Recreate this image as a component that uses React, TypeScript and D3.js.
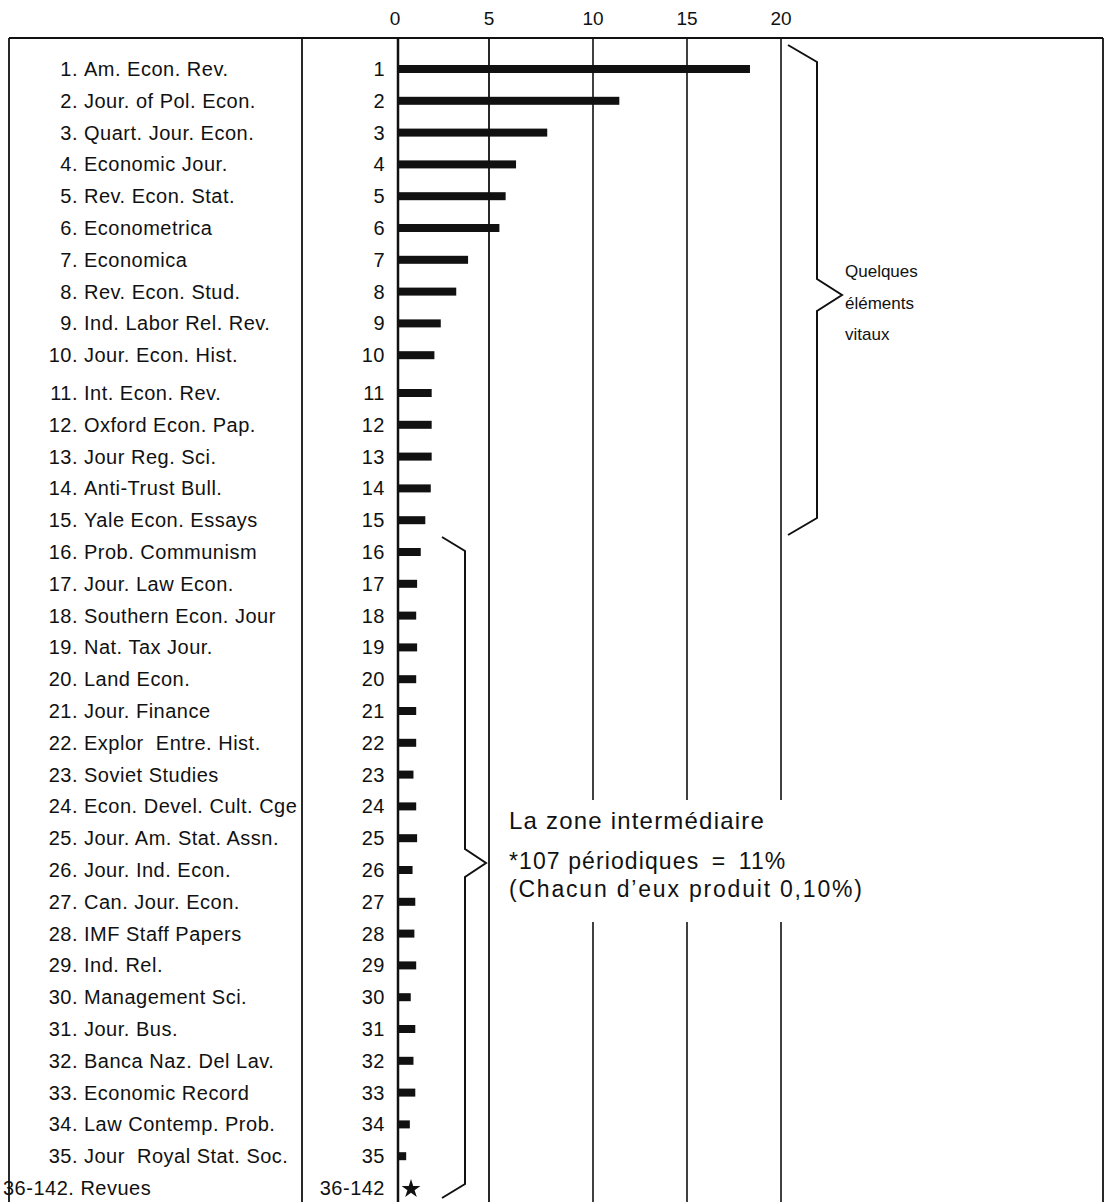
import React from "react";
import * as d3 from "d3";

const journals: string[] = [
  "Am. Econ. Rev.",
  "Jour. of Pol. Econ.",
  "Quart. Jour. Econ.",
  "Economic Jour.",
  "Rev. Econ. Stat.",
  "Econometrica",
  "Economica",
  "Rev. Econ. Stud.",
  "Ind. Labor Rel. Rev.",
  "Jour. Econ. Hist.",
  "Int. Econ. Rev.",
  "Oxford Econ. Pap.",
  "Jour Reg. Sci.",
  "Anti-Trust Bull.",
  "Yale Econ. Essays",
  "Prob. Communism",
  "Jour. Law Econ.",
  "Southern Econ. Jour",
  "Nat. Tax Jour.",
  "Land Econ.",
  "Jour. Finance",
  "Explor  Entre. Hist.",
  "Soviet Studies",
  "Econ. Devel. Cult. Cge",
  "Jour. Am. Stat. Assn.",
  "Jour. Ind. Econ.",
  "Can. Jour. Econ.",
  "IMF Staff Papers",
  "Ind. Rel.",
  "Management Sci.",
  "Jour. Bus.",
  "Banca Naz. Del Lav.",
  "Economic Record",
  "Law Contemp. Prob.",
  "Jour  Royal Stat. Soc.",
  "Revues",
];

const ranks: string[] = [
  "1", "2", "3", "4", "5", "6", "7", "8", "9", "10",
  "11", "12", "13", "14", "15", "16", "17", "18", "19", "20",
  "21", "22", "23", "24", "25", "26", "27", "28", "29", "30",
  "31", "32", "33", "34", "35", "36-142",
];

// percentage of citations (last group has no bar, marked with a star)
const values: (number | null)[] = [
  18.35, 11.4, 7.8, 6.3, 5.8, 5.5, 3.85, 3.2, 2.35, 2.0,
  1.85, 1.85, 1.85, 1.8, 1.5, 1.25, 1.05, 1.0, 1.05, 1.0,
  1.0, 1.0, 0.85, 1.0, 1.05, 0.8, 0.95, 0.9, 1.0, 0.7,
  0.95, 0.85, 0.95, 0.65, 0.45, null,
];

const xTicks: number[] = [0, 5, 10, 15, 20];

const vitalLabel: string[] = ["Quelques", "éléments", "vitaux"];
const zoneTitle = "La zone intermédiaire";
const zoneCount: string[] = ["*107 périodiques ", "=", " 11%"];
const zoneEach = "(Chacun d\u2019eux produit 0,10%)";

const FONT = "'Liberation Sans', Arial, Helvetica, sans-serif";

export default function App() {
  const W = 1107;
  const H = 1202;
  const x = d3.scaleLinear().domain(xTicks).range([398, 489, 593, 687, 781]);
  const rowY = d3.scaleLinear().domain([0, 1]).range([69, 100.8]);
  const y = (i: number) => rowY(i) + (i >= 10 ? 6 : 0);
  const barH = 8;

  const frameTop = 38;
  const gapTop = 800;
  const gapBottom = 922;
  const fs = 20;
  const ls = 0.5;

  const brace = (
    xe: number, xs: number, xt: number,
    yTop: number, yBot: number, yTip: number, dy: number, dTip: number
  ) => {
    const p = d3.path();
    p.moveTo(xe, yTop);
    p.lineTo(xs, yTop + dy);
    p.lineTo(xs, yTip - dTip);
    p.lineTo(xt, yTip);
    p.lineTo(xs, yTip + dTip);
    p.lineTo(xs, yBot - dy);
    p.lineTo(xe, yBot);
    return p.toString();
  };

  const star = d3.symbol(d3.symbolStar, 110)();

  return (
    <svg
      width={W}
      height={H}
      style={{ position: "absolute", left: 0, top: 0, background: "#fff" }}
      fontFamily={FONT}
    >
      <rect x={0} y={0} width={W} height={H} fill="#fff" />
      {/* tick labels */}
      {xTicks.map((t) => (
        <text key={"t" + t} x={x(t) - (t === 0 ? 3 : 0)} y={25} fontSize={19} textAnchor="middle" fill="#111">
          {t}
        </text>
      ))}
      {/* frame */}
      <line x1={9} x2={1103} y1={frameTop} y2={frameTop} stroke="#111" strokeWidth={2} />
      <line x1={9} x2={9} y1={frameTop} y2={H} stroke="#111" strokeWidth={1.8} />
      <line x1={1103} x2={1103} y1={frameTop} y2={H} stroke="#111" strokeWidth={1.8} />
      <line x1={302} x2={302} y1={frameTop} y2={H} stroke="#111" strokeWidth={1.8} />
      {/* grid lines */}
      {xTicks.slice(1).map((t) => {
        const gx = x(t);
        if (t === 5) {
          return <line key={"g" + t} x1={gx} x2={gx} y1={frameTop} y2={H} stroke="#111" strokeWidth={1.8} />;
        }
        return (
          <g key={"g" + t}>
            <line x1={gx} x2={gx} y1={frameTop} y2={gapTop} stroke="#111" strokeWidth={1.6} />
            <line x1={gx} x2={gx} y1={gapBottom} y2={H} stroke="#111" strokeWidth={1.6} />
          </g>
        );
      })}
      {/* zero axis */}
      <line x1={x(0)} x2={x(0)} y1={frameTop} y2={H} stroke="#111" strokeWidth={2.5} />
      {/* bars */}
      {values.map((v, i) =>
        v == null ? (
          <path key={"s" + i} d={star} transform={`translate(${x(0) + 13},${y(i) + 1})`} fill="#111" />
        ) : (
          <rect key={"b" + i} x={x(0)} y={y(i) - barH / 2} width={x(v) - x(0)} height={barH} fill="#111" />
        )
      )}
      {/* rank numbers */}
      {ranks.map((r, i) => (
        <text key={"r" + i} x={385} y={y(i) + 7} fontSize={fs} letterSpacing={ls} textAnchor="end" fill="#111">
          {r}
        </text>
      ))}
      {/* journal names */}
      {journals.map((n, i) =>
        i === journals.length - 1 ? (
          <text key={"n" + i} x={3} y={y(i) + 7} fontSize={fs} letterSpacing={ls} fill="#111" style={{ whiteSpace: "pre" }}>
            {ranks[i] + ". " + n}
          </text>
        ) : (
          <g key={"n" + i}>
            <text x={78} y={y(i) + 7} fontSize={fs} letterSpacing={ls} textAnchor="end" fill="#111">
              {ranks[i] + "."}
            </text>
            <text x={84} y={y(i) + 7} fontSize={fs} letterSpacing={ls} fill="#111" style={{ whiteSpace: "pre" }}>
              {n}
            </text>
          </g>
        )
      )}
      {/* braces */}
      <path d={brace(788, 817, 842, 45, 535, 295, 17, 16)} fill="none" stroke="#111" strokeWidth={2} />
      <path d={brace(442, 465, 486, 537, 1198, 863, 14, 14)} fill="none" stroke="#111" strokeWidth={2} />
      {vitalLabel.map((s, i) => (
        <text key={"v" + i} x={845} y={277 + i * 31.5} fontSize={17} fill="#111">
          {s}
        </text>
      ))}
      <text x={509} y={829} fontSize={24} letterSpacing={1.2} fill="#111">
        {zoneTitle}
      </text>
      <text x={509} y={869} fontSize={23} letterSpacing={1.1} fill="#111" style={{ whiteSpace: "pre" }}>
        {zoneCount[0]}
        <tspan dx={5}>{zoneCount[1]}</tspan>
        <tspan dx={5}>{zoneCount[2]}</tspan>
      </text>
      <text x={509} y={897} fontSize={23} letterSpacing={1.8} fill="#111">
        {zoneEach}
      </text>
    </svg>
  );
}
